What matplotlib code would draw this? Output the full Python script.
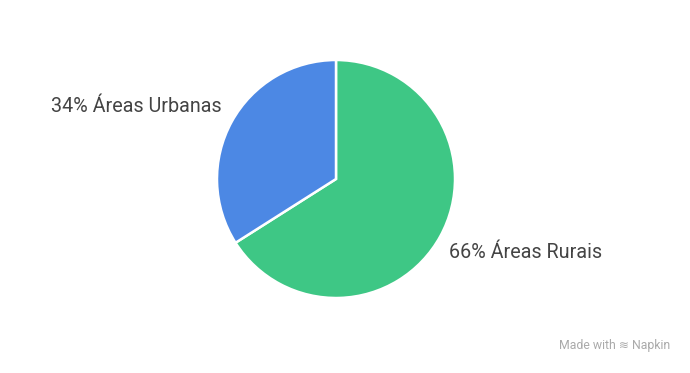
import matplotlib
matplotlib.use("Agg")
import matplotlib.pyplot as plt

categories = ["Áreas Rurais", "Áreas Urbanas"]
values = [66, 34]
colors = ["#3EC785", "#4C88E4"]

plt.rcParams['font.family'] = ['Roboto', 'DejaVu Sans']

W, H = 690, 373
fig = plt.figure(figsize=(W/100, H/100), dpi=100)
cx, cy, r = 336, 179, 119
ax = fig.add_axes([(cx - r)/W, (H - cy - r)/H, 2*r/W, 2*r/H])
ax.pie(values, colors=colors, startangle=90, counterclock=False, radius=1,
       wedgeprops=dict(edgecolor="white", linewidth=1.8))
ax.set_xlim(-1, 1)
ax.set_ylim(-1, 1)
ax.set_aspect('equal')
ax.axis('off')

ax.text((222 - cx)/r, (cy - 106)/r, f"{values[1]}% {categories[1]}", ha='right', va='center',
        fontsize=14.2, color='#444444', clip_on=False)
ax.text((449 - cx)/r, (cy - 253)/r, f"{values[0]}% {categories[0]}", ha='left', va='center',
        fontsize=14.2, color='#444444', clip_on=False)

fig.text(670/W, 1 - 345/H, "Made with ≋ Napkin", ha='right', va='center', fontsize=8.8, color='#AAAAAA')

fig.savefig("out.png", dpi=100, facecolor='white')
